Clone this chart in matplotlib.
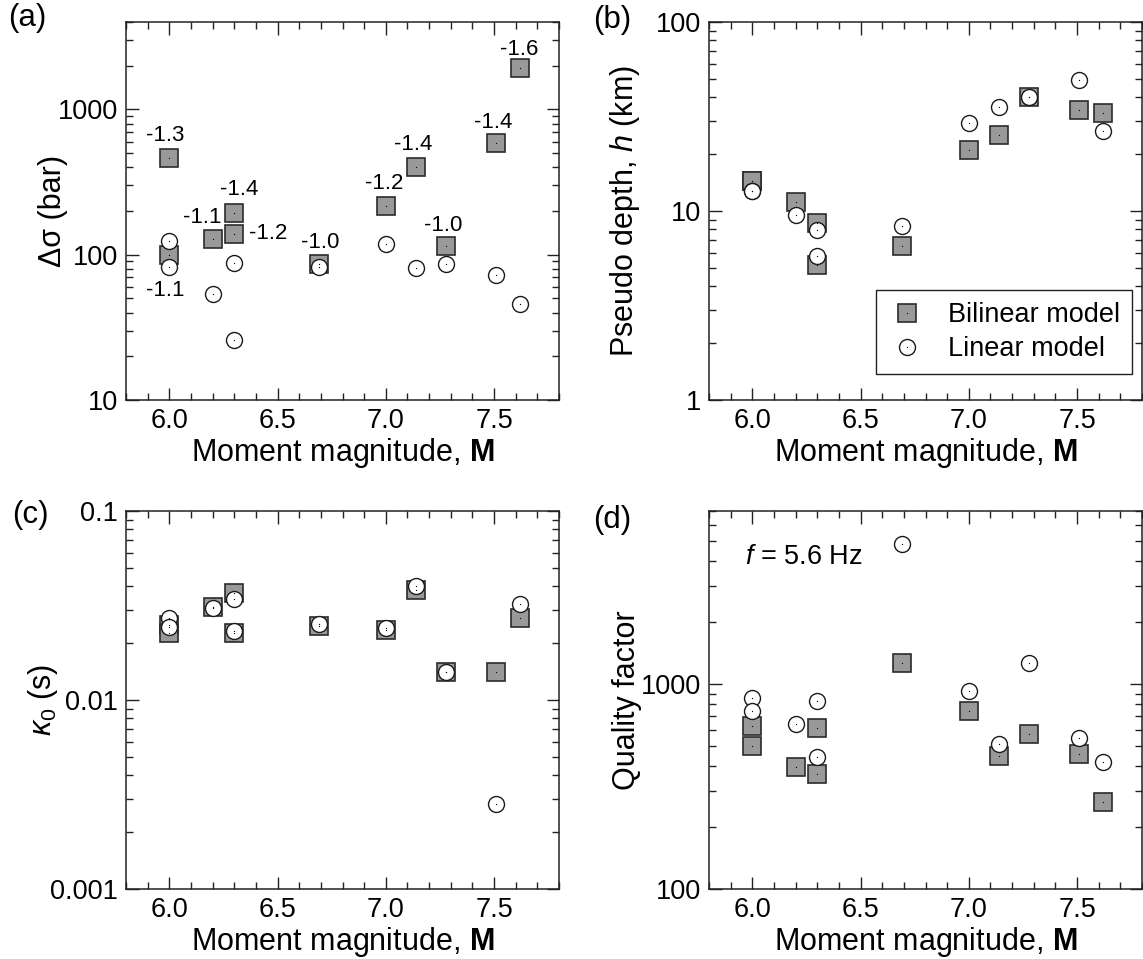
import matplotlib
matplotlib.use('Agg')
import matplotlib.pyplot as plt
from matplotlib.ticker import MultipleLocator, FormatStrFormatter, FuncFormatter, NullFormatter

plt.rcParams['font.family'] = ['Liberation Sans', 'DejaVu Sans']
plt.rcParams['mathtext.fontset'] = 'custom'
plt.rcParams['mathtext.rm'] = 'Liberation Sans'
plt.rcParams['mathtext.it'] = 'Liberation Sans:italic'
plt.rcParams['mathtext.bf'] = 'Liberation Sans:bold'

# moment magnitudes of the 11 events
mag = [6.0, 6.0, 6.2, 6.3, 6.3, 6.69, 7.0, 7.14, 7.28, 7.51, 7.62]

# (a) stress drop (bar)
sd_bilinear = [464, 100, 128, 194, 140, 86, 218, 403, 115, 585, 1920]
sd_linear = [125, 82, 54, 88, 26, 82, 118, 81.5, 87, 73, 46]
sd_labels = ['-1.3', '-1.1', '-1.1', '-1.4', '-1.2', '-1.0', '-1.2', '-1.4', '-1.0', '-1.4', '-1.6']

# (b) pseudo depth (km)
h_bilinear = [14.4, 14.4, 11.2, 8.6, 5.2, 6.55, 20.9, 25.2, 40.0, 34.3, 33.2]
h_linear = [12.8, 12.8, 9.5, 7.96, 5.75, 8.33, 29.1, 35.7, 40.0, 49.1, 26.5]

# (c) kappa0 (s)
k_bilinear = [0.0249, 0.0226, 0.0312, 0.037, 0.0226, 0.0247, 0.0234, 0.0382, 0.0141, 0.0140, 0.0272]
k_linear = [0.0273, 0.0244, 0.0308, 0.0341, 0.0233, 0.0252, 0.0239, 0.0403, 0.0141, 0.00281, 0.0322]

# (d) quality factor at f = 5.6 Hz
q_bilinear = [622, 500, 394, 612, 363, 1261, 738, 447, 568, 457, 265]
q_linear = [851, 741, 638, 829, 440, 4837, 928, 513, 1261, 547, 415]

# label offsets in pixels (style only)
sd_offsets = [(-4, 22), (-4, -36), (-10, 22), (5, 23), (15, 0), (2, 22), (-2, 22), (-3, 22), (-3, 20), (-3, 21), (-1, 19)]
sd_ha = ['center', 'center', 'center', 'center', 'left', 'center', 'center', 'center', 'center', 'center', 'center']

fig = plt.figure(figsize=(11.43, 9.59), dpi=100)
W, H = 1143, 959
boxes = {'a': (126, 22), 'b': (709, 22), 'c': (126, 511), 'd': (709, 511)}
aw, ah = 433, 378

sq_style = dict(linestyle='none', marker='s', markersize=13, markerfacecolor='#999999',
                markeredgecolor='#2b2b2b', markeredgewidth=1.2)
ci_style = dict(linestyle='none', marker='o', markersize=11.5, markerfacecolor='white',
                markeredgecolor='#1a1a1a', markeredgewidth=1.0)
dot_style = dict(linestyle='none', marker='o', markersize=0.9, markeredgewidth=0, color='black')


def make_axes(key, ylim, ylabel, label_x):
    x0, y0 = boxes[key]
    ax = fig.add_axes([x0 / W, (H - y0 - ah) / H, aw / W, ah / H])
    ax.set_yscale('log')
    ax.set_xlim(5.8, 7.8)
    ax.set_ylim(*ylim)
    ax.xaxis.set_major_locator(MultipleLocator(0.5))
    ax.xaxis.set_minor_locator(MultipleLocator(0.1))
    ax.xaxis.set_major_formatter(FormatStrFormatter('%.1f'))
    ax.yaxis.set_major_formatter(FuncFormatter(lambda v, p: '{:g}'.format(v)))
    ax.yaxis.set_minor_formatter(NullFormatter())
    ax.tick_params(which='both', direction='in', top=True, right=True, labelsize=19.5,
                   width=1.0, color='#222222')
    ax.tick_params(which='major', length=9, pad=6)
    ax.tick_params(which='minor', length=5)
    for s in ax.spines.values():
        s.set_linewidth(1.1)
        s.set_color('#222222')
    ax.set_xlabel('Moment magnitude, $\\mathbf{M}$', fontsize=22, labelpad=1)
    ax.set_ylabel(ylabel, fontsize=22)
    ax.yaxis.set_label_coords(label_x, 0.5)
    return ax


def scatter_pair(ax, yb, yl):
    sq, = ax.plot(mag, yb, **sq_style)
    ci, = ax.plot(mag, yl, **ci_style)
    d1, = ax.plot(mag, yb, **dot_style)
    d2, = ax.plot(mag, yl, **dot_style)
    return sq, ci, d1


ax_a = make_axes('a', (10, 4000), 'Δσ (bar)', -0.135)
scatter_pair(ax_a, sd_bilinear, sd_linear)
for m, v, t, off, ha in zip(mag, sd_bilinear, sd_labels, sd_offsets, sd_ha):
    ax_a.annotate(t, (m, v), xytext=off, textcoords='offset pixels', ha=ha, va='center', fontsize=16)

ax_b = make_axes('b', (1, 100), 'Pseudo depth, $\\mathit{h}$ (km)', -0.155)
sq, ci, dot = scatter_pair(ax_b, h_bilinear, h_linear)
ax_b.legend([(sq, dot), (ci, dot)], ['Bilinear model', 'Linear model'], loc='lower right',
            bbox_to_anchor=(0.977, 0.068), borderaxespad=0, fontsize=19.5, frameon=True,
            fancybox=False, edgecolor='#222222', framealpha=1, handletextpad=0.8,
            borderpad=0.45, labelspacing=0.3, handlelength=1.4).get_frame().set_linewidth(1.0)

ax_c = make_axes('c', (0.001, 0.1), '$\\mathit{\\kappa}_{\\mathit{0}}$ (s)', -0.152)
scatter_pair(ax_c, k_bilinear, k_linear)

ax_d = make_axes('d', (100, 7000), 'Quality factor', -0.155)
scatter_pair(ax_d, q_bilinear, q_linear)
ax_d.text(0.083, 0.878, '$\\mathit{f}$ = 5.6 Hz', transform=ax_d.transAxes, fontsize=19.5,
          ha='left', va='center')

for t, x, y in [('(a)', 27, 18), ('(b)', 612, 20), ('(c)', 30, 515), ('(d)', 612, 520)]:
    fig.text(x / W, 1 - y / H, t, fontsize=22.5, ha='center', va='center')

fig.savefig('out.png', dpi=100)
